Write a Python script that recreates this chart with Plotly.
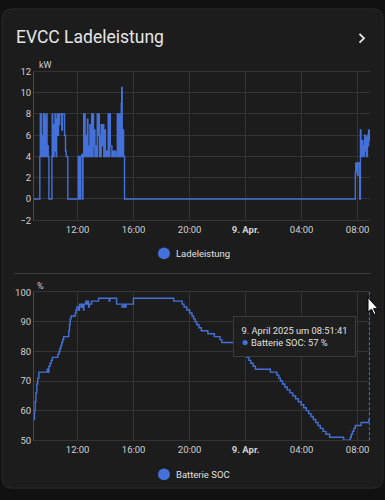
import plotly.graph_objects as go

W, H = 385, 500

# ---------------- data ----------------
lade_time = [
    "2025-04-08 08:53", "2025-04-08 09:18", "2025-04-08 09:20", "2025-04-08 09:21", "2025-04-08 09:23",
    "2025-04-08 09:24", "2025-04-08 09:26", "2025-04-08 09:27", "2025-04-08 09:29", "2025-04-08 09:31",
    "2025-04-08 09:33", "2025-04-08 09:34", "2025-04-08 09:36", "2025-04-08 09:38", "2025-04-08 09:40",
    "2025-04-08 09:41", "2025-04-08 09:44", "2025-04-08 09:45", "2025-04-08 09:48", "2025-04-08 09:49",
    "2025-04-08 09:52", "2025-04-08 09:54", "2025-04-08 09:57", "2025-04-08 10:10", "2025-04-08 10:11",
    "2025-04-08 10:13", "2025-04-08 10:15", "2025-04-08 10:17", "2025-04-08 10:19", "2025-04-08 10:21",
    "2025-04-08 10:23", "2025-04-08 10:24", "2025-04-08 10:26", "2025-04-08 10:28", "2025-04-08 10:30",
    "2025-04-08 10:32", "2025-04-08 10:36", "2025-04-08 10:38", "2025-04-08 10:41", "2025-04-08 10:43",
    "2025-04-08 10:52", "2025-04-08 10:55", "2025-04-08 11:04", "2025-04-08 11:08", "2025-04-08 11:11",
    "2025-04-08 11:18", "2025-04-08 12:03", "2025-04-08 12:07", "2025-04-08 12:09", "2025-04-08 12:13",
    "2025-04-08 12:18", "2025-04-08 12:21", "2025-04-08 12:23", "2025-04-08 12:26", "2025-04-08 12:28",
    "2025-04-08 12:30", "2025-04-08 12:32", "2025-04-08 12:36", "2025-04-08 12:38", "2025-04-08 12:42",
    "2025-04-08 12:44", "2025-04-08 12:48", "2025-04-08 12:50", "2025-04-08 12:53", "2025-04-08 12:55",
    "2025-04-08 13:00", "2025-04-08 13:02", "2025-04-08 13:06", "2025-04-08 13:08", "2025-04-08 13:12",
    "2025-04-08 13:14", "2025-04-08 13:17", "2025-04-08 13:19", "2025-04-08 13:24", "2025-04-08 13:26",
    "2025-04-08 13:31", "2025-04-08 13:33", "2025-04-08 13:36", "2025-04-08 13:38", "2025-04-08 13:41",
    "2025-04-08 13:44", "2025-04-08 13:50", "2025-04-08 13:52", "2025-04-08 13:57", "2025-04-08 13:59",
    "2025-04-08 14:04", "2025-04-08 14:06", "2025-04-08 14:11", "2025-04-08 14:13", "2025-04-08 14:18",
    "2025-04-08 14:20", "2025-04-08 14:25", "2025-04-08 14:27", "2025-04-08 14:33", "2025-04-08 14:35",
    "2025-04-08 14:41", "2025-04-08 14:43", "2025-04-08 14:50", "2025-04-08 14:52", "2025-04-08 14:55",
    "2025-04-08 14:57", "2025-04-08 15:01", "2025-04-08 15:03", "2025-04-08 15:07", "2025-04-08 15:09",
    "2025-04-08 15:11", "2025-04-08 15:14", "2025-04-08 15:17", "2025-04-08 15:21",
    "2025-04-09 07:50", "2025-04-09 07:52", "2025-04-09 07:54", "2025-04-09 07:56", "2025-04-09 07:59",
    "2025-04-09 08:02", "2025-04-09 08:05", "2025-04-09 08:09", "2025-04-09 08:12", "2025-04-09 08:14",
    "2025-04-09 08:16", "2025-04-09 08:18", "2025-04-09 08:20", "2025-04-09 08:22", "2025-04-09 08:25",
    "2025-04-09 08:27", "2025-04-09 08:30", "2025-04-09 08:33", "2025-04-09 08:36", "2025-04-09 08:39",
    "2025-04-09 08:42", "2025-04-09 08:45", "2025-04-09 08:47", "2025-04-09 08:49", "2025-04-09 08:51",
    "2025-04-09 08:52",
]
lade_kw = [
    0, 4, 8, 4, 8,
    4.3, 6, 4, 5.5, 4,
    8, 4.5, 6, 4, 8,
    4, 7.5, 4, 8, 4,
    5, 4, 0, 4, 8,
    4.5, 6.5, 4, 7, 5,
    8, 4.5, 6, 4, 7.5,
    8, 6, 8, 7, 8,
    6.5, 8, 6, 4.5, 4,
    0, 4, 3.5, 0, 4,
    4.2, 0, 4, 8, 4,
    8, 4, 6, 4, 7.5,
    4, 5, 4, 7, 4,
    8, 4, 8, 5, 6.5,
    4, 5, 4, 8, 6,
    8, 4, 6, 4, 7,
    5, 7, 4, 6.5, 4,
    4.5, 4, 8, 4, 8,
    5, 5, 4, 4.5, 4,
    4.5, 4, 8, 4, 8,
    4, 8, 4, 9, 10.5,
    4, 6.5, 4, 0,
    2.5, 3.4, 2.6, 3.4, 2.2,
    3.3, 3.4, 0, 6.5, 4,
    5.2, 4, 5.5, 4.2, 5,
    4, 6, 4.5, 5.8, 4,
    6, 5, 6.5, 5.5, 6.5,
    6.5,
]

soc_time = [
    "2025-04-08 08:52", "2025-04-08 08:55", "2025-04-08 08:58", "2025-04-08 09:01", "2025-04-08 09:05",
    "2025-04-08 09:09", "2025-04-08 09:14", "2025-04-08 09:50", "2025-04-08 09:53", "2025-04-08 09:57",
    "2025-04-08 10:02", "2025-04-08 10:07", "2025-04-08 10:12", "2025-04-08 10:35", "2025-04-08 10:40",
    "2025-04-08 10:44", "2025-04-08 10:48", "2025-04-08 10:52", "2025-04-08 10:56", "2025-04-08 11:00",
    "2025-04-08 11:22", "2025-04-08 11:25", "2025-04-08 11:28", "2025-04-08 11:32", "2025-04-08 11:50",
    "2025-04-08 11:53", "2025-04-08 11:57", "2025-04-08 12:05", "2025-04-08 12:08", "2025-04-08 12:15",
    "2025-04-08 12:20", "2025-04-08 12:25", "2025-04-08 12:27", "2025-04-08 12:35", "2025-04-08 12:38",
    "2025-04-08 12:43", "2025-04-08 12:47", "2025-04-08 12:50", "2025-04-08 13:00", "2025-04-08 13:30",
    "2025-04-08 14:15", "2025-04-08 14:18", "2025-04-08 14:47", "2025-04-08 15:10", "2025-04-08 15:18",
    "2025-04-08 15:23", "2025-04-08 15:27", "2025-04-08 15:59", "2025-04-08 18:52", "2025-04-08 19:28",
    "2025-04-08 19:36", "2025-04-08 19:48", "2025-04-08 20:00", "2025-04-08 20:10", "2025-04-08 20:17",
    "2025-04-08 20:24", "2025-04-08 20:31", "2025-04-08 20:40", "2025-04-08 20:50", "2025-04-08 21:18",
    "2025-04-08 21:46", "2025-04-08 22:10", "2025-04-08 22:18", "2025-04-08 23:20", "2025-04-08 23:32",
    "2025-04-08 23:44", "2025-04-08 23:55", "2025-04-09 00:06", "2025-04-09 00:14", "2025-04-09 00:22",
    "2025-04-09 00:32", "2025-04-09 00:42", "2025-04-09 01:46", "2025-04-09 02:14", "2025-04-09 02:22",
    "2025-04-09 02:29", "2025-04-09 02:38", "2025-04-09 02:48", "2025-04-09 02:58", "2025-04-09 03:10",
    "2025-04-09 03:22", "2025-04-09 03:34", "2025-04-09 03:46", "2025-04-09 03:58", "2025-04-09 04:09",
    "2025-04-09 04:20", "2025-04-09 04:30", "2025-04-09 04:40", "2025-04-09 04:50", "2025-04-09 05:00",
    "2025-04-09 05:10", "2025-04-09 05:20", "2025-04-09 05:32", "2025-04-09 05:44", "2025-04-09 06:00",
    "2025-04-09 07:00", "2025-04-09 07:29", "2025-04-09 07:33", "2025-04-09 07:38", "2025-04-09 07:44",
    "2025-04-09 07:50", "2025-04-09 08:15", "2025-04-09 08:48", "2025-04-09 08:51:41",
]
soc_pct = [
    57, 60, 63, 66, 69,
    71, 73, 74, 73, 75,
    76, 77, 78, 79, 80,
    81, 82, 83, 84, 85,
    87, 89, 91, 92, 93,
    94, 95, 94, 96, 95,
    96, 94, 96, 97, 96,
    97, 95, 96, 97, 98,
    97, 98, 96, 95, 96,
    95, 96, 98, 97, 96,
    95, 94, 93, 92, 91,
    90, 89, 88, 87, 86,
    85, 84, 83, 82, 81,
    80, 79, 78, 77, 76,
    75, 74, 73, 72, 71,
    70, 69, 68, 67, 66,
    65, 64, 63, 62, 61,
    60, 59, 58, 57, 56,
    55, 54, 53, 52, 51,
    50, 51, 52, 53, 54,
    55, 56, 57, 57,
]

x_range = ["2025-04-08 08:53", "2025-04-09 08:53"]
x_tickvals = ["2025-04-08 12:00", "2025-04-08 16:00", "2025-04-08 20:00",
              "2025-04-09 00:00", "2025-04-09 04:00", "2025-04-09 08:00"]
x_ticktext = ["12:00", "16:00", "20:00", "<b>9. Apr.</b>", "04:00", "08:00"]
kw_ticks = [-2, 0, 2, 4, 6, 8, 10, 12]
soc_ticks = [50, 60, 70, 80, 90, 100]

title = "EVCC Ladeleistung"
series1 = "Ladeleistung"
series2 = "Batterie SOC"
tooltip_time = "9. April 2025 um 08:51:41"
tooltip_val = "Batterie SOC: 57 %"

# ---------------- style ----------------
BLUE = "#4471d9"
CARD = "#1c1c1c"
OUTER = "#111111"
GRID = "#343434"
TXT = "#d0d0d0"
FONT = "Roboto"


def px(x):
    return x / W


def py(y):
    return 1 - y / H


fig = go.Figure()
fig.add_trace(go.Scatter(x=lade_time, y=lade_kw, mode="lines", line=dict(color=BLUE, width=1.4, shape="hv"),
                         name=series1, xaxis="x", yaxis="y", showlegend=False, hoverinfo="skip"))
fig.add_trace(go.Scatter(x=soc_time, y=soc_pct, mode="lines", line=dict(color=BLUE, width=1.4, shape="hv"),
                         name=series2, xaxis="x2", yaxis="y2", showlegend=False, hoverinfo="skip"))

xax = dict(type="date", range=x_range, tickmode="array", tickvals=x_tickvals, ticktext=x_ticktext,
           showgrid=True, gridcolor=GRID, gridwidth=1, showline=True, linecolor=GRID, mirror=True,
           ticks="", zeroline=False, tickfont=dict(family=FONT, size=9.5, color=TXT), fixedrange=True)

fig.update_layout(
    width=W, height=H,
    margin=dict(l=0, r=0, t=0, b=0),
    paper_bgcolor=OUTER, plot_bgcolor="rgba(0,0,0,0)",
    font=dict(family=FONT, color=TXT),
    xaxis=dict(domain=[px(34), px(370)], anchor="y", **xax),
    xaxis2=dict(domain=[px(34), px(370)], anchor="y2", **xax),
    yaxis=dict(domain=[py(219), py(67)], range=[-2, 12], tickvals=kw_ticks, anchor="x",
               showgrid=True, gridcolor=GRID, showline=True, linecolor="#4a4a4a", mirror=False,
               zeroline=False, ticks="", tickfont=dict(family=FONT, size=9.5, color=TXT)),
    yaxis2=dict(domain=[py(444), py(292.7)], range=[50, 100], tickvals=soc_ticks, anchor="x2",
                showgrid=True, gridcolor=GRID, showline=True, linecolor="#4a4a4a", mirror=False,
                zeroline=False, ticks="", tickfont=dict(family=FONT, size=9.5, color=TXT)),
    showlegend=False,
)

# card with rounded corners
x0, y0, x1, y1, r = 2, 3, 383, 493, 10
card_path = (f"M {px(x0+r)},{py(y0)} L {px(x1-r)},{py(y0)} Q {px(x1)},{py(y0)} {px(x1)},{py(y0+r)} "
             f"L {px(x1)},{py(y1-r)} Q {px(x1)},{py(y1)} {px(x1-r)},{py(y1)} "
             f"L {px(x0+r)},{py(y1)} Q {px(x0)},{py(y1)} {px(x0)},{py(y1-r)} "
             f"L {px(x0)},{py(y0+r)} Q {px(x0)},{py(y0)} {px(x0+r)},{py(y0)} Z")
shapes = [
    dict(type="path", path=card_path, xref="paper", yref="paper", fillcolor=CARD,
         line=dict(color="#2b2b2b", width=1), layer="below"),
    # divider
    dict(type="line", xref="paper", yref="paper", x0=px(14), x1=px(371), y0=py(273.5), y1=py(273.5),
         line=dict(color="#3a3a3a", width=1.2), layer="below"),
    # chevron
    dict(type="path", xref="paper", yref="paper",
         path=f"M {px(359.5)},{py(28.5)} L {px(364)},{py(33)} L {px(359.5)},{py(37.5)}",
         line=dict(color="#e6e6e6", width=1.8)),
    # legend dots
    dict(type="circle", xref="paper", yref="paper", x0=px(158), x1=px(170), y0=py(259), y1=py(247),
         fillcolor=BLUE, line=dict(width=0)),
    dict(type="circle", xref="paper", yref="paper", x0=px(158), x1=px(170), y0=py(485), y1=py(473),
         fillcolor=BLUE, line=dict(width=0)),
    # hover dashed line
    dict(type="line", xref="x2", yref="y2 domain", x0=soc_time[-1], x1=soc_time[-1], y0=0, y1=1,
         line=dict(color="#2f6fe0", width=1.6, dash="3px,2px")),
]
# mouse cursor
cur = [(368, 298), (368, 313), (371.5, 310), (374, 315.5), (376, 314.5), (373.5, 309.5), (378, 309.5)]
cur_path = "M " + " L ".join(f"{px(a)},{py(b)}" for a, b in cur) + " Z"
shapes.append(dict(type="path", xref="paper", yref="paper", path=cur_path, fillcolor="#ffffff",
                   line=dict(color="#000000", width=1)))
fig.update_layout(shapes=shapes)

ann = [
    dict(text=title, x=px(14), y=py(32), xanchor="left", yanchor="middle",
         font=dict(family=FONT, size=17.5, color="#e6e6e6")),
    dict(text="kW", x=px(37), y=py(60), xanchor="left", yanchor="middle",
         font=dict(family=FONT, size=9, color=TXT)),
    dict(text="%", x=px(35), y=py(286), xanchor="left", yanchor="middle",
         font=dict(family=FONT, size=9, color=TXT)),
    dict(text=series1, x=px(173.5), y=py(253), xanchor="left", yanchor="middle",
         font=dict(family=FONT, size=9.5, color="#e0e0e0")),
    dict(text=series2, x=px(173.5), y=py(479), xanchor="left", yanchor="middle",
         font=dict(family=FONT, size=9.5, color="#e0e0e0")),
    dict(text=(f"{tooltip_time}<br><span style='color:{BLUE};font-size:12px'>●</span>"
               f" {tooltip_val}"),
         x=px(232.5), y=py(316.5), xanchor="left", yanchor="top", align="left",
         bgcolor="#1e1e1e", bordercolor="#3c3c3c", borderwidth=1, borderpad=7.5,
         font=dict(family=FONT, size=9.3, color="#e0e0e0")),
]
for a in ann:
    a.update(xref="paper", yref="paper", showarrow=False)
fig.update_layout(annotations=ann)

fig.write_html("out.html")
